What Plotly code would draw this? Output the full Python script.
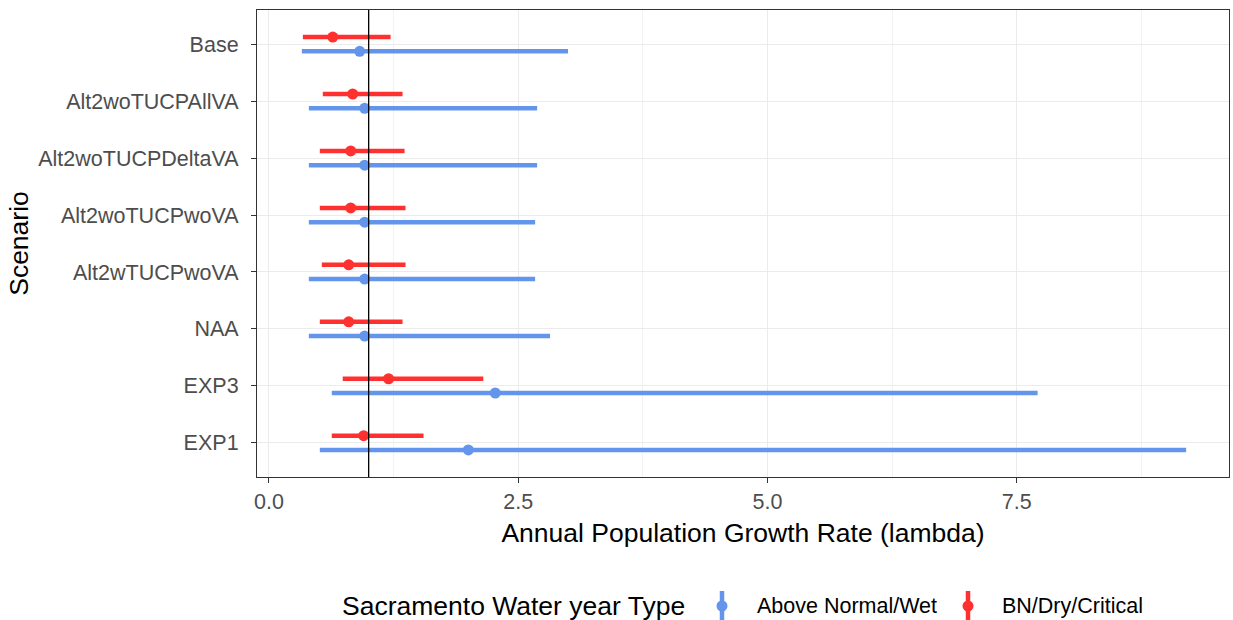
import plotly.graph_objects as go

scenarios = ["EXP1", "EXP3", "NAA", "Alt2wTUCPwoVA", "Alt2woTUCPwoVA",
             "Alt2woTUCPDeltaVA", "Alt2woTUCPAllVA", "Base"]

# Above Normal/Wet
wet_mid = [2.00, 2.27, 0.96, 0.96, 0.96, 0.96, 0.96, 0.91]
wet_lo = [0.51, 0.63, 0.40, 0.40, 0.40, 0.40, 0.40, 0.33]
wet_hi = [9.20, 7.71, 2.82, 2.67, 2.67, 2.69, 2.69, 3.00]

# BN/Dry/Critical
dry_mid = [0.95, 1.20, 0.80, 0.80, 0.82, 0.82, 0.84, 0.64]
dry_lo = [0.63, 0.74, 0.51, 0.53, 0.51, 0.51, 0.54, 0.34]
dry_hi = [1.55, 2.15, 1.34, 1.37, 1.37, 1.36, 1.34, 1.22]

BLUE = "#6495ED"
RED = "#FF3030"
FONT = "Liberation Sans, Arial"
dodge = 0.125
pos = list(range(1, len(scenarios) + 1))

L, R, T, B = 257, 1229, 10, 477
W, H = R - L, B - T

def px(xp):
    return (xp - L) / W

def py(yp):
    return (B - yp) / H

fig = go.Figure()

def add_series(mid, lo, hi, offset, color, name):
    fig.add_trace(go.Scatter(
        x=mid, y=[p + offset for p in pos], mode="markers", name=name,
        marker=dict(color=color, size=11),
        error_x=dict(type="data", symmetric=False,
                     array=[h - m for h, m in zip(hi, mid)],
                     arrayminus=[m - l for m, l in zip(mid, lo)],
                     color=color, thickness=4.5, width=0),
        showlegend=False, hoverinfo="x+y"))

add_series(wet_mid, wet_lo, wet_hi, -dodge, BLUE, "Above Normal/Wet")
add_series(dry_mid, dry_lo, dry_hi, dodge, RED, "BN/Dry/Critical")

# reference line at lambda = 1
fig.add_shape(type="line", xref="x", yref="paper", x0=1, x1=1, y0=0, y1=1,
              line=dict(color="black", width=1.3))

# manual legend (ggplot style vertical glyphs)
fig.add_annotation(text="Sacramento Water year Type", xref="paper", yref="paper",
                   x=px(340), y=py(606), xanchor="left", yanchor="middle", showarrow=False,
                   font=dict(size=26.5, color="black", family=FONT))
legend_items = [("Above Normal/Wet", BLUE, 722, 755), ("BN/Dry/Critical", RED, 968, 1000)]
for label, col, gx, tx in legend_items:
    fig.add_shape(type="line", xref="paper", yref="paper",
                  x0=px(gx), x1=px(gx), y0=py(591), y1=py(622),
                  line=dict(color=col, width=4.5))
    fig.add_shape(type="circle", xref="paper", yref="paper",
                  x0=px(gx - 5.5), x1=px(gx + 5.5), y0=py(600.5), y1=py(611.5),
                  fillcolor=col, line=dict(color=col, width=0))
    fig.add_annotation(text=label, xref="paper", yref="paper",
                       x=px(tx), y=py(606), xanchor="left", yanchor="middle", showarrow=False,
                       font=dict(size=21.5, color="black", family=FONT))

fig.update_layout(
    width=1233, height=620,
    margin=dict(l=L, r=1233 - R, t=T, b=620 - B),
    paper_bgcolor="white", plot_bgcolor="white",
    font=dict(family=FONT, color="#4D4D4D"),
    showlegend=False,
    xaxis=dict(range=[-0.12, 9.63], tick0=0, dtick=2.5, tickformat=".1f",
               showgrid=True, gridcolor="#EBEBEB", gridwidth=1.1,
               minor=dict(dtick=1.25, tick0=0, showgrid=True, gridcolor="#F2F2F2", gridwidth=0.8),
               zeroline=False, showline=True, linecolor="#333333", linewidth=1.2, mirror=True,
               ticks="outside", ticklen=5, tickcolor="#333333", automargin=False,
               tickfont=dict(size=21.5, color="#4D4D4D"),
               title=dict(text="Annual Population Growth Rate (lambda)",
                          font=dict(size=26.5, color="black"), standoff=10)),
    yaxis=dict(range=[0.4, 8.6], tickvals=pos, ticktext=scenarios,
               showgrid=True, gridcolor="#EBEBEB", gridwidth=1.1,
               zeroline=False, showline=True, linecolor="#333333", linewidth=1.2, mirror=True,
               ticks="outside", ticklen=5, tickcolor="#333333", automargin=False,
               ticklabelstandoff=8,
               tickfont=dict(size=21.5, color="#4D4D4D"),
               title=dict(text="Scenario", font=dict(size=26.5, color="black"), standoff=1)),
)

fig.write_html("out.html", config={"displayModeBar": False},
               post_script="document.body.style.margin='0';document.body.style.overflow='hidden';")
